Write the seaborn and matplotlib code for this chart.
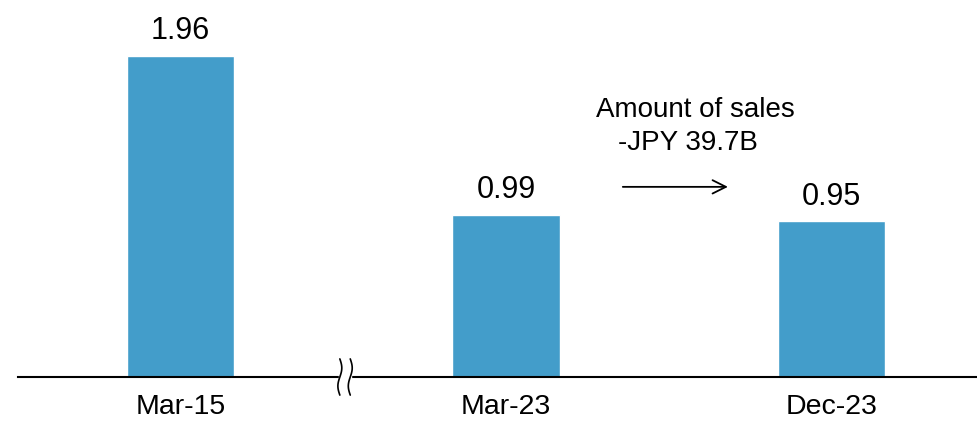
import seaborn as sns
import matplotlib.pyplot as plt
import numpy as np
import pandas as pd

# chart values
periods = ["Mar-15", "Mar-23", "Dec-23"]
ratios = [1.96, 0.99, 0.95]
note_lines = ["Amount of sales", "-JPY 39.7B"]

df = pd.DataFrame({"period": periods, "ratio": ratios})

sns.set_style("white")
plt.rcParams["font.family"] = ["Liberation Sans", "DejaVu Sans"]
plt.rcParams["text.color"] = "black"
plt.rcParams["xtick.color"] = "black"

fig = plt.figure(figsize=(9.78, 4.25), dpi=100)
ax = fig.add_axes([18 / 978, 48 / 425, 960 / 978, 377 / 425])

sns.barplot(data=df, x="period", y="ratio", color="#439DCA", saturation=1,
            width=0.33, ax=ax)

ax.set_xlim(-0.5, 2.45)
ax.set_ylim(0, 2.30)
for s in ["top", "left", "right"]:
    ax.spines[s].set_visible(False)
ax.spines["bottom"].set_linewidth(1.5)
ax.spines["bottom"].set_color("black")
ax.set_yticks([])
ax.set_xlabel("")
ax.set_ylabel("")
ax.tick_params(axis="x", length=0, pad=12.5, labelsize=20.5, labelcolor="black")

# value labels
for i, v in enumerate(ratios):
    ax.annotate(f"{v:.2f}", (i, v), xytext=(0, 7), textcoords="offset points",
                ha="center", va="bottom", fontsize=22, color="black")

# sales note and arrow
ax.text(1.58, 1.63, note_lines[0], ha="center", va="center", fontsize=20)
ax.text(1.56, 1.43, note_lines[1], ha="center", va="center", fontsize=20)
ax.annotate("", xy=(1.69, 1.16), xytext=(1.35, 1.16),
            arrowprops=dict(arrowstyle="->", color="black", lw=1.3,
                            mutation_scale=24))

# axis break mark
tr = ax.get_xaxis_transform()
xb = 0.505
ax.add_patch(plt.Rectangle((xb - 0.018, -0.02), 0.036, 0.04, transform=tr,
                           color="white", clip_on=False, zorder=5))
t = np.linspace(-1, 1, 50)
yy = t * 0.048
wig = 0.006 * np.sin(t * np.pi)
for dx in (-0.016, 0.016):
    ax.plot(xb + dx + wig, yy, color="black", lw=1.2, transform=tr,
            clip_on=False, zorder=6)

fig.savefig("out.png", dpi=100)
